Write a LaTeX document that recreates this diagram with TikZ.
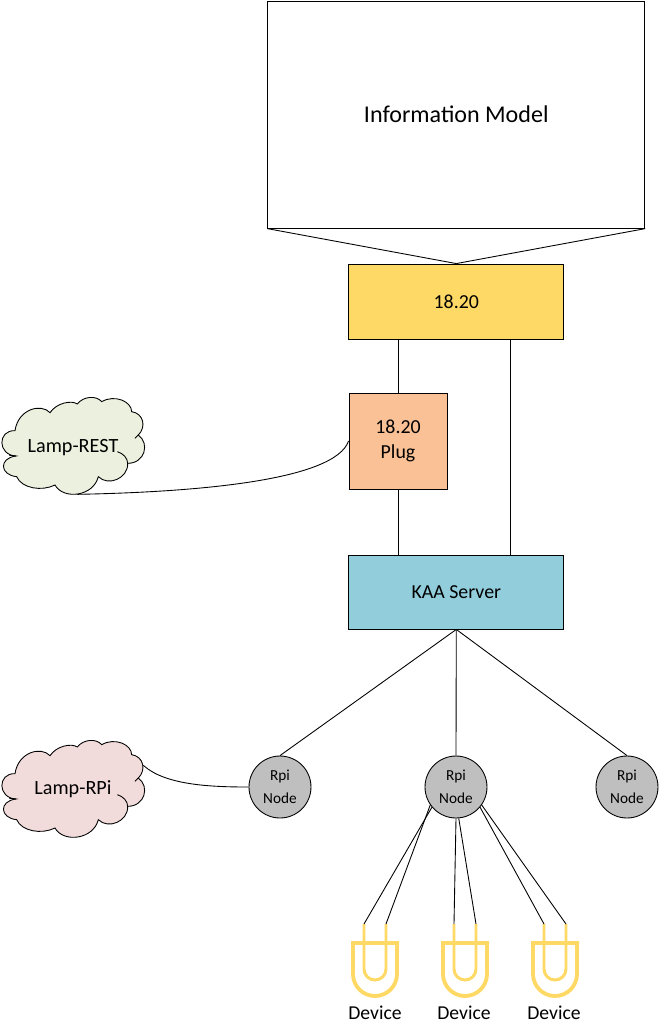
\documentclass[tikz,border=0pt]{standalone}
\usepackage{fontspec}
\setmainfont{Carlito}
\definecolor{cloudgreen}{HTML}{EBF1DE}
\definecolor{cloudpink}{HTML}{F2DCDB}
\definecolor{boxyellow}{HTML}{FFD966}
\definecolor{boxorange}{HTML}{F9C195}
\definecolor{boxblue}{HTML}{92CDDC}
\definecolor{nodegray}{HTML}{BFBFBF}
\tikzset{
  block/.style={draw, line width=0.5pt, minimum width=#1, inner sep=0pt, align=center, font=\fontsize{11.3}{14.2}\selectfont},
  rpinode/.style={draw, circle, fill=nodegray, line width=0.5pt, minimum size=1.24cm, inner sep=0pt, align=center, font=\fontsize{8.7}{12.8}\selectfont},
  lamplabel/.style={font=\fontsize{11.5}{14}\selectfont},
  devlabel/.style={font=\fontsize{11.2}{14}\selectfont},
  wire/.style={line width=0.5pt},
  pics/lampcloud/.style={code={
    \draw[fill=#1, line width=0.5pt] (45,152) .. controls (55,85) and (125,70) .. (150,98)
      .. controls (170,68) and (215,60) .. (232,72)
      .. controls (250,48) and (290,46) .. (305,65)
      .. controls (345,42) and (395,65) .. (395,95)
      .. controls (430,100) and (440,140) .. (415,165)
      .. controls (450,190) and (435,250) .. (383,250)
      .. controls (385,295) and (325,320) .. (295,290)
      .. controls (280,350) and (190,360) .. (165,315)
      .. controls (125,335) and (65,325) .. (50,290)
      .. controls (0,285) and (-5,235) .. (48,228)
      .. controls (-8,225) and (-8,150) .. (45,152) -- cycle;
    \draw[line width=0.5pt] (383,250) .. controls (383,235) and (370,220) .. (352,215);
    \draw[line width=0.5pt] (415,165) -- (405,175);
    \draw[line width=0.5pt] (48,228) -- (28,226);
    \coordinate (-foot) at (232,343);
    \coordinate (-side) at (430,127);
  }},
  pics/device/.style={code={
    \draw[boxyellow, line width=2.2pt] (-24,2) -- (24,2) (-22,2) -- (-22,33) arc[start angle=180, end angle=0, radius=22] -- (22,2);
    \draw[boxyellow, line width=1.7pt] (-11,-17) -- (-11,28) arc[start angle=180, end angle=0, radius=11] -- (11,-17);
    \coordinate (-left) at (-11,-17);
    \coordinate (-right) at (11,-17);
  }}
}
\begin{document}
\begin{tikzpicture}[x=0.02cm, y=-0.02cm]
  \useasboundingbox (0,0) rectangle (660,1035);

  \node[block=7.54cm, minimum height=4.54cm, font=\fontsize{13.7}{16}\selectfont] (model) at (456.3,114.7) {Information Model};
  \node[block=4.3cm, minimum height=1.5cm, fill=boxyellow] (ver) at (456.3,301.5) {18.20};
  \node[block=1.96cm, minimum height=1.92cm, fill=boxorange] (plug) at (398,441) {18.20\\Plug};
  \node[block=4.3cm, minimum height=1.48cm, fill=boxblue] (kaa) at (456.3,592) {KAA Server};

  \node[rpinode] (rpileft) at (280,787) {Rpi\\Node};
  \node[rpinode] (rpimid) at (456,787) {Rpi\\Node};
  \node[rpinode] (rpiright) at (627,787) {Rpi\\Node};

  \pic[scale=1/3] (rest) at (0,380) {lampcloud=cloudgreen};
  \node[lamplabel] (restlabel) at (73,448) {Lamp-REST};
  \pic[scale=1/3] (rpicloud) at (0,723) {lampcloud=cloudpink};
  \node[lamplabel] (rpilabel) at (73,789) {Lamp-RPi};

  \pic (dev1) at (375,941) {device};
  \pic (dev2) at (465,941) {device};
  \pic (dev3) at (555,941) {device};
  \node[devlabel] (devlabel1) at (375,1013) {Device};
  \node[devlabel] (devlabel2) at (464,1013) {Device};
  \node[devlabel] (devlabel3) at (554,1013) {Device};

  \coordinate (bustop) at (510,339);
  \coordinate (busbot) at (510,555);

  \draw[wire] (model.south west) -- (ver.north);
  \draw[wire] (model.south east) -- (ver.north);
  \draw[wire] (plug.north) -- (plug.north |- ver.south);
  \draw[wire] (plug.south) -- (plug.south |- kaa.north);
  \draw[wire] (bustop) -- (busbot);
  \draw[wire] (kaa.south) -- (rpileft.north);
  \draw[wire] (kaa.south) -- (rpimid.north);
  \draw[wire] (kaa.south) -- (rpiright.north);
  \draw[wire] (rest-foot) .. controls (200,492) and (335,480) .. (plug.west);
  \draw[wire] (rpicloud-side) .. controls (165,785) and (210,787) .. (rpileft.west);

  \draw[wire] (rpimid.220) -- (dev1-left);
  \draw[wire] (rpimid.215) -- (dev1-right);
  \draw[wire] (rpimid.south) -- (dev2-left);
  \draw[wire] (rpimid.-85) -- (dev2-right);
  \draw[wire] (rpimid.-40) -- (dev3-left);
  \draw[wire] (rpimid.-35) -- (dev3-right);
\end{tikzpicture}
\end{document}
